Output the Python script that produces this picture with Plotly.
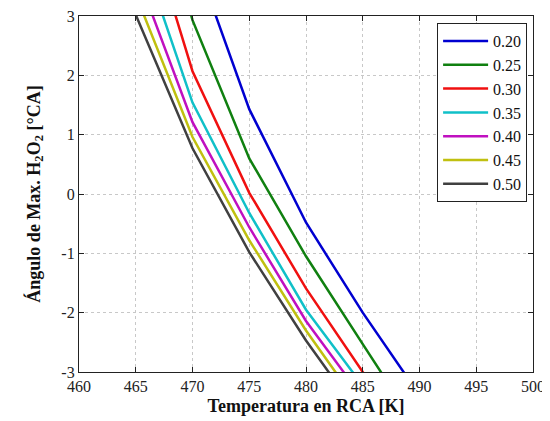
import plotly.graph_objects as go

# temperatura en RCA [K]
temp = [465, 470, 475, 480, 485, 490]

# angulo de max. H2O2 [°CA] por serie
labels = ["0.20", "0.25", "0.30", "0.35", "0.40", "0.45", "0.50"]
angles = [
    [7.8, 4.10, 1.43, -0.48, -2.00, -3.39],
    [6.4, 2.93, 0.60, -1.05, -2.53, -4.00],
    [5.2, 2.07, 0.02, -1.59, -3.00, -4.40],
    [4.35, 1.54, -0.32, -1.95, -3.23, -4.50],
    [3.77, 1.21, -0.56, -2.14, -3.44, -4.70],
    [3.36, 0.96, -0.78, -2.30, -3.65, -4.90],
    [3.02, 0.77, -0.98, -2.47, -3.80, -5.10],
]
colors = ["#0000d0", "#108010", "#f01010", "#10c0c8", "#c010c0", "#c0c010", "#404040"]

xticks = [460, 465, 470, 475, 480, 485, 490, 495, 500]
yticks = [-3, -2, -1, 0, 1, 2, 3]
yticktext = ["-3", "-2", "-1", "0", "1", "2", "3"]

serif = "Liberation Serif, Times New Roman, serif"

fig = go.Figure()
for lab, ang, col in zip(labels, angles, colors):
    fig.add_trace(go.Scatter(x=temp, y=ang, mode="lines", name=lab,
                             line=dict(color=col, width=2.5)))

axis_style = dict(showline=True, linecolor="#222", linewidth=1.2, mirror="ticks",
                  ticks="inside", ticklen=5, tickcolor="#222", automargin=False,
                  ticklabeloverflow="allow",
                  showgrid=True, gridcolor="#c8c8c8", griddash="dot", gridwidth=1,
                  zeroline=False, tickfont=dict(family=serif, size=16, color="#222"))

fig.update_xaxes(range=[460, 500], tickvals=xticks, **axis_style,
                 title=dict(text="<b>Temperatura en RCA [K]</b>", standoff=5,
                            font=dict(family=serif, size=18, color="#111")))
fig.update_yaxes(range=[-3, 3], tickvals=yticks, ticktext=yticktext, **axis_style,
                 title=dict(text="<b>Ángulo de Max. H<sub>2</sub>O<sub>2</sub> [°CA]</b>", standoff=16,
                            font=dict(family=serif, size=18, color="#111")))

# the page puts the figure 8px in from the window corner, margins allow for it
fig.update_layout(
    width=550, height=421,
    margin=dict(l=71, r=25, t=8, b=57),
    font=dict(family=serif, color="#222"),
    plot_bgcolor="white", paper_bgcolor="white",
    legend=dict(x=0.987, y=0.98, xanchor="right", yanchor="top",
                bgcolor="white", bordercolor="#222", borderwidth=1,
                font=dict(family=serif, size=16, color="#111"),
                itemwidth=45, tracegroupgap=0),
)

fig.write_html("out.html")
